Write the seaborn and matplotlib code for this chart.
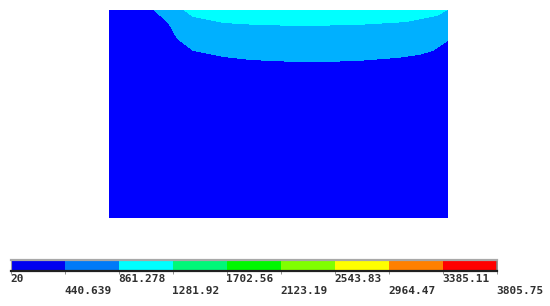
import numpy as np
import matplotlib
matplotlib.use("Agg")
import matplotlib.pyplot as plt
import seaborn as sns
from matplotlib.colors import ListedColormap

# Section size as seen in the picture
SECTION_WIDTH = 339
SECTION_DEPTH = 208

# Contour boundaries, depth below the top edge
outer_x = [0, 44, 59, 68, 84, 100, 114, 141, 175, 214, 248, 288, 310, 324, 339]
outer_depth = [0, 0, 13, 29, 41, 44, 47, 50, 51.5, 52, 51, 48, 45, 41, 31]
inner_x = [0, 74, 84, 100, 114, 148, 194, 248, 298, 328, 339]
inner_depth = [0, 0, 7, 10, 13, 15, 16, 15, 12, 6, 0]

field_colors = ["#0000ff", "#00b0ff", "#00ffff"]

# Legend bands
band_colors = ["#0000f0", "#007af8", "#00ffff", "#00f878", "#00f800",
               "#80ff00", "#ffff00", "#ff8000", "#ff0000"]
band_levels = ["20", "440.639", "861.278", "1281.92", "1702.56",
               "2123.19", "2543.83", "2964.47", "3385.11", "3805.75"]


def build_field():
    """Temperature band index for every cell of the section."""
    columns = np.arange(SECTION_WIDTH) + 0.5
    rows = np.arange(SECTION_DEPTH)[:, None] + 0.5
    outer = np.interp(columns, outer_x, outer_depth)
    inner = np.interp(columns, inner_x, inner_depth)
    return (rows < outer).astype(int) + (rows < inner).astype(int)


def main():
    fig = plt.figure(figsize=(5.5, 3.06), dpi=100)

    ax = fig.add_axes([109 / 550, 1 - 218 / 306, SECTION_WIDTH / 550, SECTION_DEPTH / 306])
    sns.heatmap(build_field(), ax=ax, cmap=ListedColormap(field_colors), vmin=0, vmax=2,
                cbar=False, xticklabels=False, yticklabels=False, rasterized=True)

    bar = fig.add_axes([11 / 550, 1 - 271 / 306, 486 / 550, 11.5 / 306])
    sns.heatmap(np.arange(len(band_colors))[None, :], ax=bar, cmap=ListedColormap(band_colors),
                cbar=False, xticklabels=False, yticklabels=False)
    bar.set_xlim(0, len(band_colors))

    # Frame of the legend: grey on top, dark underneath
    bar.spines["top"].set(visible=True, color="#a8a8a8", linewidth=1.6)
    bar.spines["bottom"].set(visible=True, color="#202020", linewidth=1.6)
    bar.spines["right"].set(visible=True, color="#808080", linewidth=1.2)
    bar.spines["left"].set(visible=True, color="#a0a0a0", linewidth=0.8)

    bar.set_xticks(np.arange(len(band_levels)))
    bar.tick_params(axis="x", length=2, width=0.7, color="#909090", labelbottom=False)

    # Labels alternate between two rows, left aligned on their tick
    for i, label in enumerate(band_levels):
        drop = -8 if i % 2 == 0 else -20
        bar.annotate(label, xy=(i, 0), xycoords=bar.get_xaxis_transform(),
                     xytext=(-1, drop), textcoords="offset pixels",
                     ha="left", va="center", annotation_clip=False,
                     fontfamily="DejaVu Sans Mono", fontsize=8, fontweight="bold", color="#303030")

    fig.savefig("out.png", dpi=100)


if __name__ == "__main__":
    main()
